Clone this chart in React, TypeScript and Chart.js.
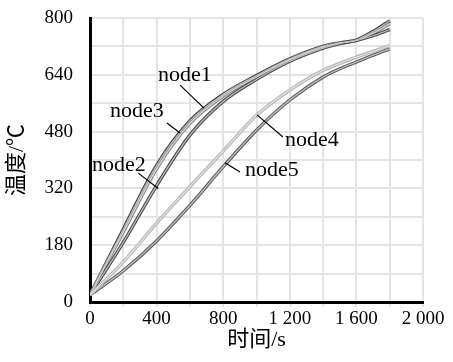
import { useEffect, useRef } from 'react';
import { Chart, registerables } from 'chart.js';

Chart.register(...registerables);

// ---- data (time in s, temperature in °C) ----
const times = [0, 200, 400, 600, 800, 1000, 1200, 1400, 1500, 1600, 1700, 1800];
const node1 = [20, 205, 385, 510, 585, 638, 685, 720, 730, 738, 762, 792];
const node3 = [20, 197, 375, 503, 580, 634, 682, 718, 729, 737, 757, 784];
const node2 = [20, 168, 328, 470, 565, 627, 678, 715, 728, 737, 750, 767];
const node4 = [20, 113, 222, 325, 425, 526, 597, 653, 672, 690, 706, 722];
const node5 = [20, 88, 172, 272, 381, 484, 569, 634, 657, 676, 695, 713];

const xTickLabels = ['0', '400', '800', '1 200', '1 600', '2 000'];
const yTickLabels = ['0', '180', '320', '480', '640', '800'];
const xTitle = '时间/s';
const yTitle = '温度/℃';

// label annotations in data coordinates: text anchor and leader line
const annotations = [
  { text: 'node1', at: [408, 623], from: [541, 611], to: [685, 546] },
  { text: 'node3', at: [120, 520], from: [462, 504], to: [541, 476] },
  { text: 'node2', at: [12, 370], from: [290, 363], to: [410, 320] },
  { text: 'node4', at: [1171, 440], from: [1159, 465], to: [1003, 527] },
  { text: 'node5', at: [931, 356], from: [901, 366], to: [811, 392] },
];

const series = [
  { name: 'node4', values: node4, outer: '#b4b4b4', inner: '#e4e4e4' },
  { name: 'node5', values: node5, outer: '#5e5e5e', inner: '#c4c4c4' },
  { name: 'node2', values: node2, outer: '#4e4e4e', inner: '#bcbcbc' },
  { name: 'node3', values: node3, outer: '#8c8c8c', inner: '#d6d6d6' },
  { name: 'node1', values: node1, outer: '#444444', inner: '#b8b8b8' },
];

const SERIF = "'Liberation Serif', 'Noto Sans CJK SC', serif";

const annotationPlugin = {
  id: 'nodeLabels',
  afterDatasetsDraw(chart: any) {
    const { ctx, scales } = chart;
    const xs = scales.x;
    const ys = scales.y;
    ctx.save();
    ctx.strokeStyle = '#000';
    ctx.lineWidth = 1.2;
    ctx.fillStyle = '#000';
    ctx.font = `20px ${SERIF}`;
    ctx.textAlign = 'left';
    ctx.textBaseline = 'alphabetic';
    for (const a of annotations) {
      ctx.beginPath();
      ctx.moveTo(xs.getPixelForValue(a.from[0]), ys.getPixelForValue(a.from[1]));
      ctx.lineTo(xs.getPixelForValue(a.to[0]), ys.getPixelForValue(a.to[1]));
      ctx.stroke();
      ctx.save();
      ctx.translate(xs.getPixelForValue(a.at[0]), ys.getPixelForValue(a.at[1]));
      ctx.scale(1.1, 1);
      ctx.fillText(a.text, 0, 0);
      ctx.restore();
    }
    ctx.restore();
  },
};

export default function App() {
  const ref = useRef<HTMLCanvasElement | null>(null);

  useEffect(() => {
    document.body.style.margin = '0';
    const canvas = ref.current;
    if (!canvas) return;

    const datasets: any[] = [];
    series.forEach((s) => {
      const pts = times.map((t, i) => ({ x: t, y: s.values[i] }));
      datasets.push({
        label: s.name + '-outer',
        data: pts,
        borderColor: s.outer,
        borderWidth: 3.4,
        pointRadius: 0,
        cubicInterpolationMode: 'monotone',
        fill: false,
        order: 2,
      });
      datasets.push({
        label: s.name,
        data: pts,
        borderColor: s.inner,
        borderWidth: 1.2,
        pointRadius: 0,
        cubicInterpolationMode: 'monotone',
        fill: false,
        order: 1,
      });
    });

    const chart = new Chart(canvas, {
      type: 'line',
      data: { datasets },
      plugins: [annotationPlugin],
      options: {
        animation: false,
        responsive: false,
        devicePixelRatio: 1,
        layout: { padding: { top: 18, right: 30, left: 0, bottom: 0 } },
        plugins: { legend: { display: false }, tooltip: { enabled: false } },
        scales: {
          x: {
            type: 'linear',
            min: 0,
            max: 2000,
            afterFit: (scale: any) => {
              scale.height = 60;
              scale.paddingTop = 0;
              scale.paddingBottom = 0;
            },
            ticks: {
              stepSize: 200,
              autoSkip: false,
              maxRotation: 0,
              padding: 1,
              color: '#000',
              font: { family: SERIF, size: 19 },
              callback: (v: any) => {
                const n = Number(v);
                return n % 400 === 0 ? xTickLabels[n / 400] : '';
              },
            },
            grid: {
              color: '#e4e4e4',
              lineWidth: 2,
              drawTicks: true,
              tickLength: 5,
              tickColor: '#e4e4e4',
            },
            border: { color: '#000', width: 3 },
            title: {
              display: true,
              text: xTitle,
              color: '#000',
              font: { family: SERIF, size: 22 },
              padding: { top: 0, bottom: 9 },
            },
          },
          y: {
            type: 'linear',
            min: 0,
            max: 800,
            afterFit: (scale: any) => {
              scale.width = 90;
              scale.paddingTop = 0;
              scale.paddingBottom = 0;
            },
            ticks: {
              stepSize: 80,
              autoSkip: false,
              padding: 17,
              color: '#000',
              font: { family: SERIF, size: 19 },
              callback: (v: any) => {
                const n = Number(v);
                return n % 160 === 0 ? yTickLabels[n / 160] : '';
              },
            },
            grid: { color: '#e4e4e4', lineWidth: 2, drawTicks: false },
            border: { color: '#000', width: 3 },
            title: {
              display: true,
              text: yTitle,
              color: '#000',
              font: { family: SERIF, size: 22 },
              padding: { top: 4, bottom: 0 },
            },
          },
        },
      },
    } as any);

    return () => chart.destroy();
  }, []);

  return (
    <div style={{ position: 'absolute', left: 0, top: 0, width: 453, height: 362 }}>
      <canvas ref={ref} width={453} height={362} style={{ display: 'block' }} />
    </div>
  );
}
